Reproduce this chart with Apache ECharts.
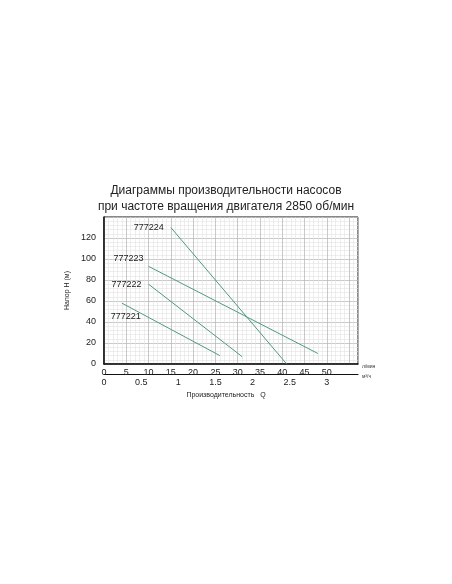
<!DOCTYPE html>
<html>
<head>
<meta charset="utf-8">
<script src="https://cdn.jsdelivr.net/npm/echarts@6/dist/echarts.min.js"></script>
<style>html,body{margin:0;padding:0;background:#fff}#chart{width:452px;height:584px}</style>
</head>
<body>
<div id="chart"></div>
<script>
// Q в л/мин, H в м
var names = ['777221', '777222', '777223', '777224'];
var line777221 = [[4, 58], [26, 8]];
var line777222 = [[10, 76], [31, 7]];
var line777223 = [[10, 93], [48, 10]];
var line777224 = [[15, 130], [41, 0]];
var labelPos = [['bottom', [4, 4]], ['left', [-2, 0]], ['left', [0, -8]], ['left', [-2, 0]]];

var myChart = echarts.init(document.getElementById('chart'));
var lines = [line777221, line777222, line777223, line777224];
var series = lines.map(function (d, i) {
    return {
        name: names[i],
        type: 'line',
        symbol: 'circle',
        symbolSize: 0.1,
        showSymbol: true,
        lineStyle: { color: '#4f9a7e', width: 1 },
        itemStyle: { color: '#4f9a7e' },
        data: d.map(function (p, j) {
            if (j > 0) return p;
            return {
                value: p,
                label: {
                    show: true, formatter: names[i], position: labelPos[i][0], offset: labelPos[i][1],
                    color: '#222', fontSize: 9, fontFamily: 'Liberation Sans'
                }
            };
        }),
        xAxisIndex: 0
    };
});
series.push({ type: 'line', data: [], xAxisIndex: 1 });

var option = {
    animation: false,
    title: {
        text: 'Диаграммы производительности насосов\nпри частоте вращения двигателя 2850 об/мин',
        left: 'center', top: 178,
        textStyle: { fontSize: 12, fontWeight: 'normal', color: '#222', lineHeight: 16, fontFamily: 'Liberation Sans' }
    },
    grid: { left: 104, top: 217, width: 254, height: 147, show: true, borderColor: '#111', borderWidth: 1 },
    xAxis: [{
        type: 'value', min: 0, max: 57, interval: 5,
        axisLine: { lineStyle: { color: '#111', width: 1.5 } },
        axisTick: { show: false },
        axisLabel: {
            color: '#222', fontSize: 9, margin: 4,
            formatter: function (v) { return v > 50 ? '' : v; }
        },
        splitLine: { lineStyle: { color: '#bbb', width: 0.8 } },
        minorTick: { show: false, splitNumber: 5 },
        minorSplitLine: { show: true, lineStyle: { color: '#e2e2e2', width: 0.6 } },
        name: 'л/мин', nameGap: 4, nameTextStyle: { fontSize: 5, color: '#333', verticalAlign: 'top' }
    }, {
        type: 'value', position: 'bottom', offset: 10, min: 0, max: 3.42, interval: 0.5,
        axisLine: { show: true, lineStyle: { color: '#111', width: 1 } },
        axisTick: { show: false },
        axisLabel: { color: '#222', fontSize: 9, margin: 4, showMaxLabel: false },
        splitLine: { show: false },
        name: 'м³/ч', nameGap: 4, nameTextStyle: { fontSize: 5, color: '#333', verticalAlign: 'top' }
    }],
    yAxis: {
        type: 'value', min: 0, max: 140, interval: 20,
        axisLine: { show: true, lineStyle: { color: '#111', width: 1.5 } },
        axisTick: { show: false },
        axisLabel: { color: '#222', fontSize: 9, margin: 8, showMaxLabel: false },
        splitLine: { lineStyle: { color: '#bbb', width: 0.8 } },
        minorSplitLine: { show: true, lineStyle: { color: '#e2e2e2', width: 0.6 } },
        minorTick: { splitNumber: 5 },
        name: 'Напор Н (м)', nameLocation: 'middle', nameGap: 22,
        nameTextStyle: { fontSize: 7, color: '#222' }
    },
    graphic: [{
        type: 'text', left: 'center', top: 392,
        style: { text: 'Производительность   Q', fontSize: 7, fill: '#222' }
    }],
    series: series
};
option && myChart.setOption(option);
</script>
</body>
</html>
